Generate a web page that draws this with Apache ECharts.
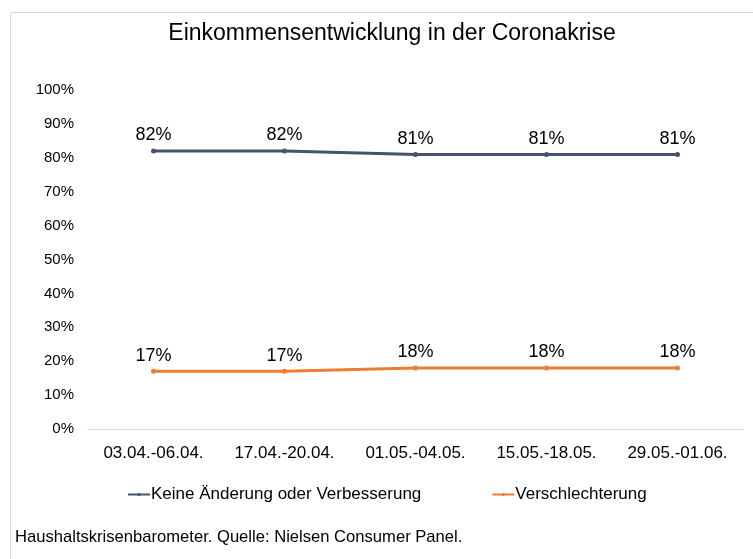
<!DOCTYPE html>
<html>
<head>
<meta charset="utf-8">
<script src="https://cdn.jsdelivr.net/npm/echarts@6/dist/echarts.min.js"></script>
<style>
html, body { margin: 0; padding: 0; background: #fff; }
#chart { width: 753px; height: 559px; }
</style>
</head>
<body>
<div id="chart"></div>
<script>
var categories = ['03.04.-06.04.', '17.04.-20.04.', '01.05.-04.05.', '15.05.-18.05.', '29.05.-01.06.'];
var keineAenderung = [82, 82, 81, 81, 81];
var verschlechterung = [17, 17, 18, 18, 18];
var seriesNames = ['Keine Änderung oder Verbesserung', 'Verschlechterung'];
var colors = ['#44546A', '#ED7D31'];

var myChart = echarts.init(document.getElementById('chart'));
var font = 'Liberation Sans, Arial, sans-serif';

var option = {
    animation: false,
    textStyle: { fontFamily: font },
    graphic: [{
        type: 'polyline',
        shape: { points: [[10.5, 570], [10.5, 12.5], [760, 12.5]] },
        style: { stroke: '#d9d9d9', lineWidth: 1, fill: null }
    }, {
        type: 'text',
        left: 15,
        top: 529,
        style: { text: 'Haushaltskrisenbarometer. Quelle: Nielsen Consumer Panel.', font: '16.6px ' + font, fill: '#000' }
    }],
    title: {
        text: 'Einkommensentwicklung in der Coronakrise',
        left: 387,
        textAlign: 'center',
        top: 17,
        textStyle: { fontSize: 23, fontWeight: 'normal', color: '#000', fontFamily: font }
    },
    legend: {
        left: 122,
        top: 481,
        itemWidth: 22,
        itemHeight: 4,
        itemGap: 70,
        textStyle: { fontSize: 17, color: '#000', fontFamily: font, padding: [0, 0, 0, -4] },
        data: seriesNames
    },
    grid: { left: 88, right: 10, top: 90, bottom: 130, containLabel: false },
    xAxis: {
        type: 'category',
        data: categories,
        boundaryGap: true,
        axisLine: { lineStyle: { color: '#d9d9d9', width: 1 } },
        axisTick: { show: false },
        axisLabel: { fontSize: 17, color: '#000', margin: 16, fontFamily: font }
    },
    yAxis: {
        type: 'value',
        min: 0,
        max: 100,
        interval: 10,
        splitLine: { show: false },
        axisLine: { show: false },
        axisTick: { show: false },
        axisLabel: { fontSize: 15, color: '#000', margin: 14, formatter: '{value}%', fontFamily: font }
    },
    series: [{
        name: seriesNames[0],
        type: 'line',
        data: keineAenderung,
        color: colors[0],
        lineStyle: { width: 3 },
        symbol: 'circle',
        symbolSize: 5,
        label: { show: true, position: 'top', distance: 4, fontSize: 18, color: '#000', formatter: '{c}%', fontFamily: font }
    }, {
        name: seriesNames[1],
        type: 'line',
        data: verschlechterung,
        color: colors[1],
        lineStyle: { width: 3 },
        symbol: 'circle',
        symbolSize: 5,
        label: { show: true, position: 'top', distance: 4, fontSize: 18, color: '#000', formatter: '{c}%', fontFamily: font }
    }]
};
myChart.setOption(option);
</script>
</body>
</html>
